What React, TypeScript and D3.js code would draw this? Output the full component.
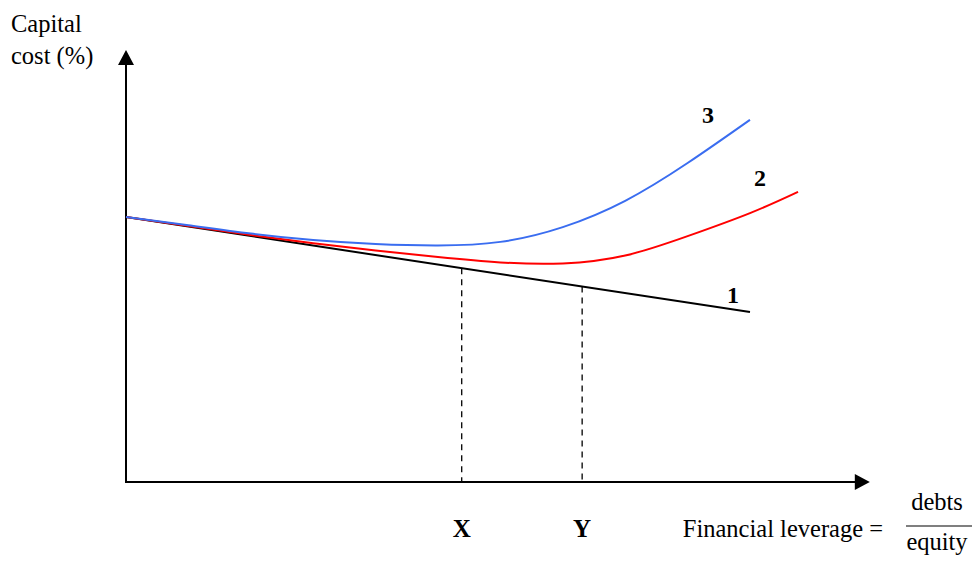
import React from 'react';
import * as d3 from 'd3';

// leverage (x) in arbitrary units, capital cost (y) in arbitrary units
const leverage = [0, 1, 2, 3, 4, 5, 6, 7, 8, 9, 10];

const line1X = [0, 10];
const line1Y = [7.36, 4.72];

const line2X = [...leverage, 10.77];
const line2Y = [7.36, 7.11, 6.86, 6.63, 6.43, 6.25, 6.1, 6.07, 6.29, 6.83, 7.47, 8.06];

const line3X = leverage;
const line3Y = [7.36, 7.13, 6.9, 6.72, 6.61, 6.57, 6.67, 7.08, 7.81, 8.86, 10.06];

const markerNames = ['X', 'Y'];
const markerX = [5.38, 7.31];

const seriesNames = ['1', '2', '3'];
const seriesColors = ['#000000', '#ff0000', '#3a6df0'];

const xAxisMax = 11.92;
const yAxisMax = 12;

const W = 975;
const H = 565;
const FONT = '"Liberation Serif", "Times New Roman", serif';

export default function App() {
  const x = d3.scaleLinear().domain([0, 10]).range([126, 750]);
  const y = d3.scaleLinear().domain([0, 12]).range([482, 50]);

  const series = [
    { xs: line1X, ys: line1Y, dx: -17, dy: -9 },
    { xs: line2X, ys: line2Y, dx: -38, dy: -6 },
    { xs: line3X, ys: line3Y, dx: -42, dy: 3 },
  ];

  const lineGen = d3
    .line<[number, number]>()
    .x(d => x(d[0]))
    .y(d => y(d[1]))
    .curve(d3.curveNatural);

  const blackAt = d3.scaleLinear().domain(line1X).range(line1Y);

  const x0 = x(0);
  const y0 = y(0);
  const xEnd = x(xAxisMax);
  const yEnd = y(yAxisMax);

  return (
    <svg
      width={W}
      height={H}
      style={{ position: 'absolute', left: 0, top: 0, background: '#fff' }}
      fontFamily={FONT}
    >
      {/* axes */}
      <line x1={x0} y1={y0} x2={x0} y2={yEnd + 14} stroke="#000" strokeWidth={2} />
      <path d={`M${x0},${yEnd} L${x0 - 8},${yEnd + 15} L${x0 + 8},${yEnd + 15} Z`} fill="#000" />
      <line x1={x0 - 1} y1={y0} x2={xEnd - 14} y2={y0} stroke="#000" strokeWidth={2} />
      <path d={`M${xEnd},${y0} L${xEnd - 15},${y0 - 8} L${xEnd - 15},${y0 + 8} Z`} fill="#000" />

      {/* dashed drop lines */}
      {markerX.map((m, i) => (
        <g key={markerNames[i]}>
          <line
            x1={x(m)}
            x2={x(m)}
            y1={y(blackAt(m))}
            y2={y0}
            stroke="#000"
            strokeWidth={1.3}
            strokeDasharray="6,5"
          />
          <text
            x={x(m)}
            y={537}
            textAnchor="middle"
            fontSize={25}
            fontWeight="bold"
          >
            {markerNames[i]}
          </text>
        </g>
      ))}

      {/* curves */}
      {series.map((s, i) => {
        const pts = s.xs.map((v, j) => [v, s.ys[j]] as [number, number]);
        const last = pts[pts.length - 1];
        return (
          <g key={seriesNames[i]}>
            <path d={lineGen(pts) || ''} fill="none" stroke={seriesColors[i]} strokeWidth={2} />
            <text
              x={x(last[0]) + s.dx}
              y={y(last[1]) + s.dy}
              textAnchor="middle"
              fontSize={24}
              fontWeight="bold"
            >
              {seriesNames[i]}
            </text>
          </g>
        );
      })}

      {/* y-axis title */}
      <text x={11} y={32} fontSize={24.5}>Capital</text>
      <text x={11} y={64} fontSize={24.5}>cost (%)</text>

      {/* x-axis title */}
      <text x={883} y={537} textAnchor="end" fontSize={24.5}>Financial leverage =</text>
      <text x={937} y={510} textAnchor="middle" fontSize={24.5}>debts</text>
      <line x1={906} x2={972} y1={526} y2={526} stroke="#000" strokeWidth={1.2} />
      <text x={937} y={550} textAnchor="middle" fontSize={24.5}>equity</text>
    </svg>
  );
}
